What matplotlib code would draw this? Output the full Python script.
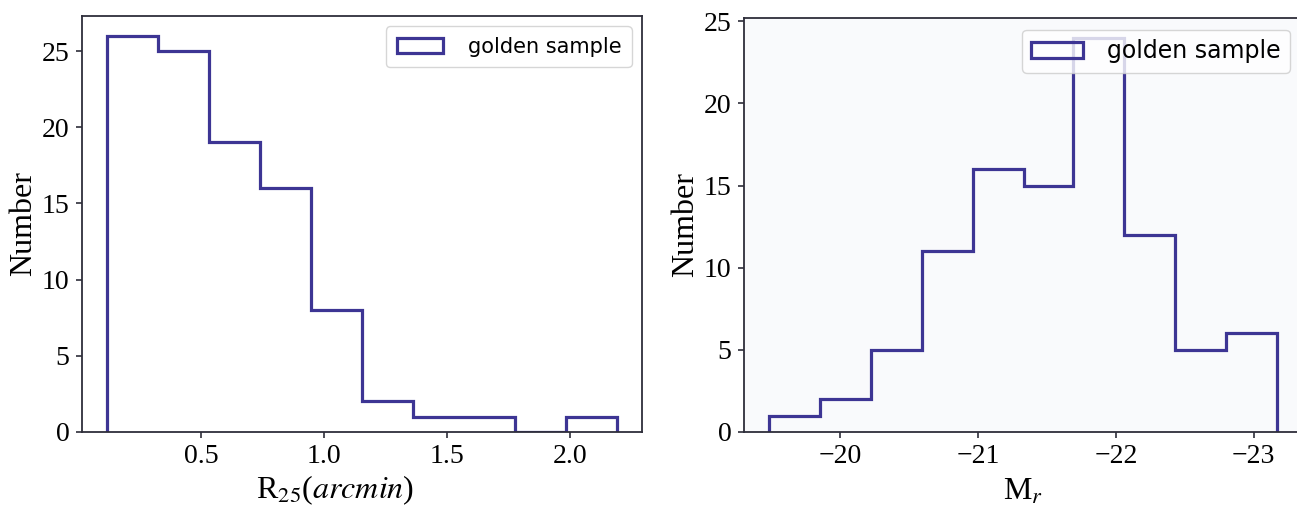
import numpy as np
import matplotlib
matplotlib.use("Agg")
import matplotlib.pyplot as plt

# histogram of R25 (arcmin), golden sample
r25_edges = [0.12, 0.327, 0.534, 0.741, 0.948, 1.155, 1.362, 1.569, 1.776, 1.983, 2.19]
r25_counts = [26, 25, 19, 16, 8, 2, 1, 1, 0, 1]

# histogram of absolute magnitude M_r (bright end on the right)
mr_edges = [-19.48, -19.85, -20.22, -20.59, -20.96, -21.33, -21.69, -22.06, -22.43, -22.80, -23.17]
mr_counts = [1, 2, 5, 11, 16, 15, 24, 12, 5, 6]

r25_ticks = [0.5, 1.0, 1.5, 2.0]
mr_ticks = [-20, -21, -22, -23]
y_ticks = [0, 5, 10, 15, 20, 25]

line_color = "#3d3594"
spine_color = "#2e2e3a"

plt.rcParams['font.family'] = ['Liberation Serif', 'DejaVu Serif']
plt.rcParams['mathtext.fontset'] = 'stix'

fig = plt.figure(figsize=(12.97, 5.07), dpi=100)
ax1 = fig.add_axes([0.0632, 0.148, 0.4318, 0.8205])
ax2 = fig.add_axes([0.5736, 0.148, 0.4302, 0.8166])
ax2.set_facecolor("#f9fafc")


def draw_hist(ax, edges, counts):
    edges = np.array(edges)
    counts = np.array(counts)
    if edges[0] > edges[-1]:
        edges = edges[::-1]
        counts = counts[::-1]
    centers = 0.5 * (edges[:-1] + edges[1:])
    ax.hist(centers, bins=edges, weights=counts, histtype='step',
            color=line_color, linewidth=2.3, label='golden sample')
    for s in ax.spines.values():
        s.set_color(spine_color)
        s.set_linewidth(1.3)
    ax.tick_params(axis='both', labelsize=20, length=4, width=1.2,
                   color=spine_color, pad=5)
    ax.set_yticks(y_ticks)
    ax.set_ylabel("Number", fontsize=23)
    ax.yaxis.set_label_coords(-0.078, 0.5)


draw_hist(ax1, r25_edges, r25_counts)
ax1.set_xticks(r25_ticks)
ax1.set_xlabel(r"R$_{25}$($arcmin$)", fontsize=23)
ax1.xaxis.set_label_coords(0.452, -0.1)
ax1.legend(loc='upper right', prop={'family': 'DejaVu Sans', 'size': 15},
           handlelength=2.2, borderpad=0.5, handletextpad=1.2)

draw_hist(ax2, mr_edges, mr_counts)
ax2.set_xticks(mr_ticks)
ax2.set_xlim(-19.30, -23.35)
ax2.set_ylim(0, 25.2)
ax2.set_xlabel(r"M$_{r}$", fontsize=23, labelpad=6)
ax2.legend(loc='upper right', prop={'family': 'DejaVu Sans', 'size': 17},
           handlelength=2.2, borderpad=0.4, handletextpad=1.0)

fig.savefig("out.png", dpi=100)
